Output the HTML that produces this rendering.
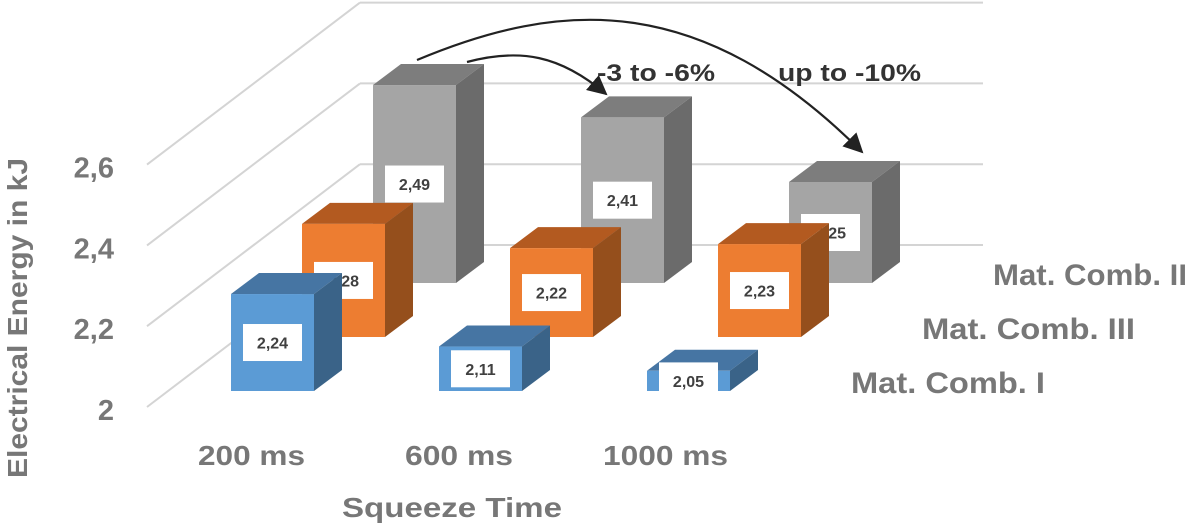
<!DOCTYPE html>
<html><head><meta charset="utf-8"><style>
html,body{margin:0;padding:0;background:#fff}
svg{display:block;font-family:"Liberation Sans",sans-serif}
</style></head><body>
<svg id="chart" width="1200" height="530" viewBox="0 0 1200 530" xmlns="http://www.w3.org/2000/svg">
<defs>
<marker id="ah" viewBox="0 0 10 10" refX="9" refY="5" markerWidth="9" markerHeight="9" orient="auto-start-reverse"><path d="M0,0 L10,5 L0,10 z" fill="#222"/></marker>
</defs>
<g id="grid"></g>
<g id="bars"></g>
<g id="labels"></g>
<path d="M467,62 C520,48 560,55 606,94" fill="none" stroke="#222" stroke-width="2.2" marker-end="url(#ah)"/>
<path d="M417,60 C560,0 700,-10 862,152" fill="none" stroke="#222" stroke-width="2.2" marker-end="url(#ah)"/>
<text x="597" y="81" font-size="24" font-weight="bold" fill="#333" textLength="118" lengthAdjust="spacingAndGlyphs">-3 to -6%</text>
<text x="778" y="81" font-size="24" font-weight="bold" fill="#333" textLength="143" lengthAdjust="spacingAndGlyphs">up to -10%</text>
</svg>
<script>
const categories = ["200 ms", "600 ms", "1000 ms"];
const seriesNames = ["Mat. Comb. I", "Mat. Comb. III", "Mat. Comb. II"];
const seriesI = [2.24, 2.11, 2.05];
const seriesIII = [2.28, 2.22, 2.23];
const seriesII = [2.49, 2.41, 2.25];
const yTicks = [2, 2.2, 2.4, 2.6];
const yTickLabels = ["2", "2,2", "2,4", "2,6"];

const NS = "http://www.w3.org/2000/svg";
const yMin = 2, pxPerUnit = 404;
function yH(v){ return (v - yMin) * pxPerUnit; }
function xCat(c){ return 231 + 208 * c; }
function depthX(s){ return 71 * s; }
function depthY(s){ return -54 * s; }
const W = 83, DX = 28, DY = -21;
function mk(tag, attrs, parent){
  const e = document.createElementNS(NS, tag);
  for (const k in attrs) e.setAttribute(k, attrs[k]);
  parent.appendChild(e); return e;
}
const grid = document.getElementById('grid');
const bars = document.getElementById('bars');
const labels = document.getElementById('labels');

yTicks.forEach((t, i) => {
  const by = 245 - yH(t), fy = 407 - yH(t);
  const g1 = mk('line', {x1:360, y1:by, x2:983, y2:by, stroke:'#d4d4d4', 'stroke-width':2}, grid);
  
  
  const g2 = mk('line', {x1:147, y1:fy, x2:360, y2:by, stroke:'#d4d4d4', 'stroke-width':2}, grid);
  
  
  const tl = mk('text', {x:114, y:fy + 13, 'text-anchor':'end', 'font-size':29, 'font-weight':'bold', fill:'#777'}, labels);
  tl.textContent = yTickLabels[i];
  
  
});

const palette = [
  {front:'#5b9bd5', top:'#4675a3', side:'#3a6388'},
  {front:'#ed7d31', top:'#b35a20', side:'#954f1c'},
  {front:'#a5a5a5', top:'#7d7d7d', side:'#6b6b6b'}
];
const allSeries = [seriesI, seriesIII, seriesII];
for (let s = 2; s >= 0; s--) {
  allSeries[s].forEach((v, c) => {
    const x = xCat(c) + depthX(s), b = 391 + depthY(s), h = yH(v), t = b - h;
    const col = palette[s];
    const g = mk('g', {}, bars);
    
    
    mk('polygon', {points:`${x},${t} ${x+DX},${t+DY} ${x+W+DX},${t+DY} ${x+W},${t}`, fill:col.top}, g);
    mk('polygon', {points:`${x+W},${t} ${x+W+DX},${t+DY} ${x+W+DX},${b+DY} ${x+W},${b}`, fill:col.side}, g);
    mk('rect', {x:x, y:t, width:W, height:h, fill:col.front}, g);
    const cy = t + h / 2, cx = x + W / 2;
    const lb = mk('rect', {x:cx - 29.5, y:cy - 18.5, width:59, height:37, fill:'#fff'}, g);
    
    
    const lt = mk('text', {x:cx, y:cy + 6, 'text-anchor':'middle', 'font-size':16, 'font-weight':'bold', fill:'#404040'}, g);
    lt.textContent = v.toFixed(2).replace('.', ',');
    
    
  });
}

const catPos = [[198,107],[405,108],[603,125]];
categories.forEach((c, i) => {
  const e = mk('text', {x:catPos[i][0], y:465, 'font-size':28, 'font-weight':'bold', fill:'#777', textLength:catPos[i][1], lengthAdjust:'spacingAndGlyphs'}, labels);
  e.textContent = c;
  
  
});
const legPos = [[851,393,194],[922,339,213],[993,285,194]];
seriesNames.forEach((n, i) => {
  const e = mk('text', {x:legPos[i][0], y:legPos[i][1], 'font-size':30, 'font-weight':'bold', fill:'#777', textLength:legPos[i][2], lengthAdjust:'spacingAndGlyphs'}, labels);
  e.textContent = n;
  
  
});
const xt = mk('text', {x:342, y:517, 'font-size':28, 'font-weight':'bold', fill:'#777', textLength:220, lengthAdjust:'spacingAndGlyphs'}, labels);
xt.textContent = 'Squeeze Time';


const yt = mk('text', {x:0, y:0, 'font-size':28, 'font-weight':'bold', fill:'#777', 'text-anchor':'middle', textLength:320, lengthAdjust:'spacingAndGlyphs', transform:'translate(27,318) rotate(-90)'}, labels);
yt.textContent = 'Electrical Energy in kJ';


</script>
</body></html>
